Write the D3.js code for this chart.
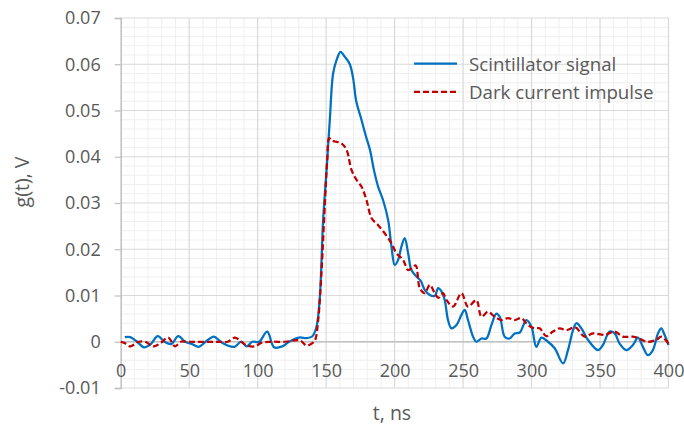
<!DOCTYPE html>
<html>
<head>
<meta charset="utf-8">
<script src="https://cdn.jsdelivr.net/npm/d3@7"></script>
<style>
  html, body { margin: 0; padding: 0; background: #fff; }
  svg { display: block; }
  text { font-family: "Open Sans", "Noto Sans", sans-serif; fill: #595959; }
</style>
</head>
<body>
<svg id="chart" width="684" height="426"></svg>
<script>
// ---- data ----
const scintT = [3,7,12,17,22,27,32,37,42,47,52,57,62,68,73,78,83,88,92,96,101,107,112,118,123,130,136,140,143,145.4,147.8,150.3,152.7,155.1,157.6,160.5,163.7,167.3,169.7,172,175.8,179,182,185,188,191.6,195.3,197.7,200.1,202.6,205,207.4,209.9,212.3,216,219,222,225.7,229.3,231.8,234,236.6,239,241.5,245.2,248.8,251.2,253.6,257.3,259.7,263.4,267,270.7,274.3,276.8,280.4,284,287.7,291.4,296.2,299.9,303.5,307.2,312,316.9,323,326.6,330.3,332.7,336.4,341.2,348.5,352.1,357,360.7,364.3,369.2,374,377.7,381.3,385,388.6,392.3,394.7,397.1,400];
const scintG = [0.001,0.001,0.0,-0.0012,-0.0005,0.0012,0.0,-0.0005,0.0012,0.0,-0.0005,-0.0011,0.0,0.0011,0.0,-0.0008,-0.0011,0.0,-0.001,0.0,0.0,0.0022,-0.0012,-0.001,0.0,0.0009,0.0008,0.0012,0.0033,0.0097,0.0263,0.0371,0.048,0.058,0.0609,0.0627,0.0616,0.06,0.057,0.052,0.048,0.0445,0.0415,0.037,0.0335,0.0306,0.0263,0.0206,0.0166,0.0177,0.0206,0.0224,0.0191,0.0155,0.0141,0.0132,0.0112,0.0101,0.0099,0.0116,0.011,0.009,0.0047,0.0029,0.0036,0.0058,0.0069,0.0047,0.0011,0.0,0.0007,0.0007,0.0036,0.0061,0.0054,0.0011,0.0007,0.0018,0.002,0.0047,0.0033,-0.0011,0.0009,0.0,-0.0014,-0.0047,-0.0018,0.0025,0.004,0.0029,0.0004,-0.0018,-0.0007,0.0022,0.0018,-0.0004,-0.0018,-0.0007,0.0009,-0.0011,-0.0029,-0.0018,0.0018,0.0029,0.0015,-0.0007];

const darkT = [0,3,7,13,18,24,29,34.7,39.6,44,50,60,70,78,83.4,88,92,98,103,110,120,130.8,135.7,140,142,144.2,146.7,149.1,150.8,152.2,154,156.4,161.2,164.9,168.6,172.2,175.9,179.5,183.2,188,192.9,197.7,201.4,206.2,209.9,213.5,215.5,218.4,222,225.7,229.3,232,235.4,238,242.7,248.8,253.6,259.7,263.4,268.2,273.1,278,282.8,287.7,292.6,297.4,302.3,305.9,310.8,315.6,320.5,325.4,332,338.8,344.8,353.4,360.7,366.7,374,378.9,383.8,391.1,394.7,400];
const darkG = [0,-0.0003,-0.001,0.0,0.0,-0.001,-0.0003,0.0009,-0.001,0.0,0,0,0,0.0,0.0009,0.0,-0.0008,-0.001,-0.0002,0,0,0.0003,-0.0008,-0.0003,0.0004,0.0047,0.0155,0.03,0.0393,0.044,0.0435,0.0433,0.0429,0.0415,0.0371,0.035,0.0335,0.0306,0.0267,0.0252,0.0234,0.0213,0.0191,0.0177,0.0155,0.0162,0.0165,0.0116,0.0105,0.0123,0.0105,0.0095,0.0105,0.009,0.0076,0.0105,0.0076,0.009,0.0054,0.0065,0.0054,0.0047,0.0051,0.0047,0.0051,0.0036,0.0029,0.0029,0.0012,0.0022,0.0029,0.0025,0.0031,0.0011,0.0018,0.0015,0.0022,0.0011,0.0011,0.0007,0,0.0004,0.0011,-0.0004];

const xTicks = [0,50,100,150,200,250,300,350,400];
const yTicks = [-0.01,0,0.01,0.02,0.03,0.04,0.05,0.06,0.07];
const seriesNames = ["Scintillator signal", "Dark current impulse"];
const xTitle = "t, ns";
const yTitle = "g(t), V";

// ---- layout ----
const svg = d3.select("#chart");
const pLeft = 120.7, pRight = 668.5, pTop = 18, pBottom = 388;
const x = d3.scaleLinear().domain([0, 400]).range([pLeft, pRight]);
const y = d3.scaleLinear().domain([-0.01, 0.07]).range([pBottom, pTop]);

svg.append("rect").attr("width", 684).attr("height", 426).attr("fill", "#fff");

const grid = svg.append("g");
const xMinor = d3.range(0, 401, 10).filter(v => v % 50 !== 0);
const yMinor = d3.range(-10, 71, 2).filter(v => v % 10 !== 0).map(v => v / 1000);
grid.selectAll(".xm").data(xMinor).join("line")
  .attr("x1", d => x(d)).attr("x2", d => x(d)).attr("y1", pTop).attr("y2", pBottom)
  .attr("stroke", "#efefef").attr("stroke-width", 1);
grid.selectAll(".ym").data(yMinor).join("line")
  .attr("x1", pLeft).attr("x2", pRight).attr("y1", d => y(d)).attr("y2", d => y(d))
  .attr("stroke", "#efefef").attr("stroke-width", 1);
grid.selectAll(".xM").data(xTicks.slice(1)).join("line")
  .attr("x1", d => x(d)).attr("x2", d => x(d)).attr("y1", pTop).attr("y2", pBottom)
  .attr("stroke", "#d9d9d9").attr("stroke-width", 1.2);
grid.selectAll(".yM").data(yTicks).join("line")
  .attr("x1", pLeft).attr("x2", pRight).attr("y1", d => y(d)).attr("y2", d => y(d))
  .attr("stroke", "#d9d9d9").attr("stroke-width", 1.2);

svg.append("line").attr("x1", pLeft).attr("x2", pRight).attr("y1", y(0)).attr("y2", y(0))
  .attr("stroke", "#bfbfbf").attr("stroke-width", 1.5);

const yAxis = svg.append("g").attr("transform", `translate(${pLeft},0)`)
  .call(d3.axisLeft(y).tickValues(yTicks).tickSize(6).tickPadding(14)
    .tickFormat(d => Math.abs(d) < 1e-9 ? "0" : d.toFixed(2)));
yAxis.select(".domain").attr("stroke", "#bfbfbf").attr("stroke-width", 1.5);
yAxis.selectAll(".tick line").attr("stroke", "#bfbfbf").attr("stroke-width", 1.2);
yAxis.selectAll("text").attr("font-size", 18).attr("fill", "#595959")
  .attr("font-family", "'Open Sans', sans-serif");

const xAxis = svg.append("g").attr("transform", `translate(0,${y(0)})`)
  .call(d3.axisBottom(x).tickValues(xTicks).tickSize(0).tickPadding(22).tickFormat(d3.format("d")));
xAxis.select(".domain").remove();
xAxis.selectAll("text").attr("font-size", 18).attr("fill", "#595959")
  .attr("font-family", "'Open Sans', sans-serif");

svg.append("text").attr("x", 392).attr("y", 420)
  .attr("text-anchor", "middle").attr("font-size", 19.5).text(xTitle);
svg.append("text").attr("transform", `translate(29,182) rotate(-90)`)
  .attr("text-anchor", "middle").attr("font-size", 19.5).text(yTitle);

const line = d3.line().x(d => x(d[0])).y(d => y(d[1])).curve(d3.curveCatmullRom.alpha(0.5));
const scintData = scintT.map((t, i) => [t, scintG[i]]);
const darkData = darkT.map((t, i) => [t, darkG[i]]);

svg.append("path").datum(scintData).attr("d", line)
  .attr("fill", "none").attr("stroke", "#0070C0").attr("stroke-width", 2.25)
  .attr("stroke-linejoin", "round");
svg.append("path").datum(darkData).attr("d", line)
  .attr("fill", "none").attr("stroke", "#C00000").attr("stroke-width", 2.25)
  .attr("stroke-dasharray", "6,3");

const legend = svg.append("g");
const legendStyles = [
  { color: "#0070C0", dash: null },
  { color: "#C00000", dash: "6,3" }
];
seriesNames.forEach((name, i) => {
  const ly = 63.5 + i * 28.3;
  legend.append("line").attr("x1", 414).attr("x2", 457).attr("y1", ly).attr("y2", ly)
    .attr("stroke", legendStyles[i].color).attr("stroke-width", 2.25)
    .attr("stroke-dasharray", legendStyles[i].dash);
  legend.append("text").attr("x", 469).attr("y", ly + 7).attr("font-size", 18.7).text(name);
});
</script>
</body>
</html>
